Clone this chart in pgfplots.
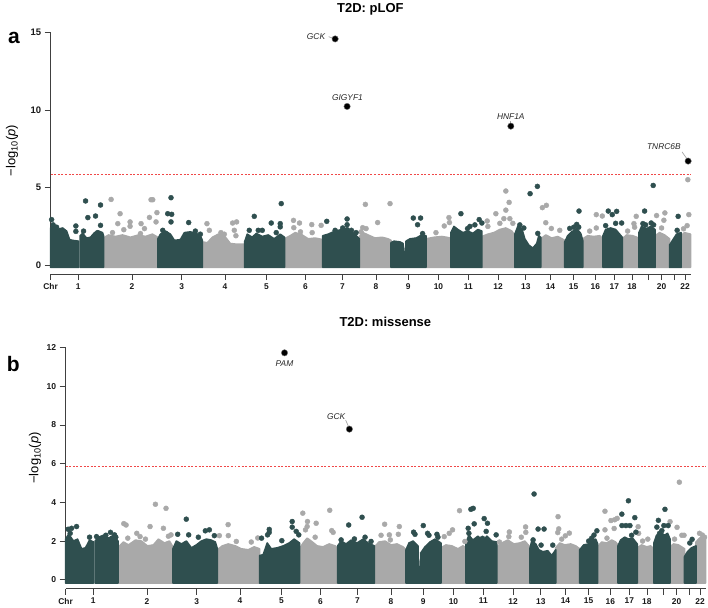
\documentclass[border=0pt]{standalone}
\usepackage{fontspec}
\setmainfont{Liberation Sans}
\usepackage{pgfplots}
\pgfplotsset{compat=1.18}

\definecolor{dk}{HTML}{2F4F4F}
\definecolor{gr}{HTML}{A9A9A9}
\definecolor{sig}{HTML}{F04848}

\pgfplotsset{
  manh/.style={
    x=1pt, xmin=0, xmax=641, clip=false,
    separate axis lines, axis x line*=bottom, axis y line*=left,
    axis line style={draw=none},
    tick align=outside, major tick length=6pt,
    tick style={draw=black!75, line width=0.7pt},
    xtick={0,27.6,81.5,131.3,174.7,216.3,255.3,292.3,326,358.3,388.5,418.5,448.3,476,500.7,523.8,545.7,564.7,582.3,598.8,612,625,635.5},
    xticklabels={Chr,1,2,3,4,5,6,7,8,9,10,11,12,13,14,15,16,17,18,{},20,{},22},
    xticklabel style={font=\bfseries\fontsize{8.4}{9}\selectfont, text=black!90},
  },
  envd/.style={fill=dk, draw=dk, line width=1.6pt, line join=round},
  envg/.style={fill=gr, draw=gr, line width=1.6pt, line join=round},
  ptd/.style={only marks, mark=*, mark size=2.5pt, mark options={draw=dk, fill=dk}},
  ptg/.style={only marks, mark=*, mark size=2.5pt, mark options={draw=gr, fill=gr}},
  hit/.style={only marks, mark=*, mark size=3.2pt, mark options={draw=black!55, fill=black}},
}
\tikzset{
  glab/.style={font=\itshape\fontsize{8.4}{9}\selectfont, text=black!85},
  conn/.style={draw=black!35, line width=0.7pt},
}

\begin{document}
\begin{tikzpicture}
\path (0,0) rectangle (708pt,-608pt);

% ---------------- panel a: pLOF ----------------
\begin{axis}[manh, y=15.55pt, ymin=-0.58, ymax=15,
  anchor=south west, at={(50.7pt,-274pt)},
  ytick={0,5,10,15}, yticklabels={0,5,10,15},
  yticklabel style={font=\bfseries\fontsize{9.5}{10}\selectfont, text=black!90}]
\draw[black!75, line width=0.7pt] (axis cs:0,0) -- (axis cs:0,15);
\draw[black!75, line width=0.7pt] (axis cs:0,-0.58) -- (axis cs:641,-0.58);

% gray chromosomes
\addplot[envg] coordinates {(53,-0.14)(53,1.75)(58,1.95)(65,1.85)(72,1.95)(80,1.8)(88,1.95)(95,1.85)(102,2.0)(107.5,1.8)(107.5,-0.14)} -- cycle;
\addplot[envg] coordinates {(152,-0.14)(152,1.5)(157,1.45)(162,1.8)(168,2.0)(174,1.9)(180,1.4)(187,1.35)(194.3,1.35)(194.3,-0.14)} -- cycle;
\addplot[envg] coordinates {(234.3,-0.14)(234.3,1.7)(240,1.9)(245,2.1)(252,1.95)(258,1.7)(265,1.75)(272.6,1.65)(272.6,-0.14)} -- cycle;
\addplot[envg] coordinates {(309.3,-0.14)(309.3,1.85)(313,2.1)(318,1.95)(325,1.75)(332,1.8)(338,1.7)(341,1.6)(341,-0.14)} -- cycle;
\addplot[envg] coordinates {(376,-0.14)(376,1.7)(384,1.8)(392,1.85)(401,1.75)(401,-0.14)} -- cycle;
\addplot[envg] coordinates {(432,-0.14)(432,1.85)(438,2.0)(444,2.1)(450,2.3)(456,2.4)(462,2.2)(465,1.9)(465,-0.14)} -- cycle;
\addplot[envg] coordinates {(491,-0.14)(491,1.7)(496,1.95)(502,1.75)(508,1.85)(515,1.6)(515,-0.14)} -- cycle;
\addplot[envg] coordinates {(533,-0.14)(533,1.7)(538,1.9)(544,1.85)(550,1.9)(553.3,1.7)(553.3,-0.14)} -- cycle;
\addplot[envg] coordinates {(572.6,-0.14)(572.6,1.7)(577,1.95)(583,1.9)(589.3,1.75)(589.3,-0.14)} -- cycle;
\addplot[envg] coordinates {(605.5,-0.14)(605.5,1.9)(610,2.1)(615,1.95)(620,1.7)(620,-0.14)} -- cycle;
\addplot[envg] coordinates {(631.5,-0.14)(631.5,1.9)(635,2.1)(641,2.0)(641,-0.14)} -- cycle;
% dark chromosomes
\addplot[envd] coordinates {(0,-0.14)(0,2.4)(3,2.55)(7,2.3)(12,2.4)(16,2.2)(19,1.65)(22,1.6)(28,1.55)(28,-0.14)} -- cycle;
\addplot[envd] coordinates {(29.6,-0.14)(29.6,1.9)(32,2.05)(36,1.75)(40,1.8)(44,2.1)(48,2.2)(52,2.1)(53,1.9)(53,-0.14)} -- cycle;
\addplot[envd] coordinates {(107.5,-0.14)(107.5,1.7)(110,2.0)(115,2.2)(120,2.0)(124,1.6)(130,1.65)(134,2.1)(140,2.15)(146,2.05)(150,1.9)(152,1.6)(152,-0.14)} -- cycle;
\addplot[envd] coordinates {(194.3,-0.14)(194.3,1.5)(197,2.0)(202,1.8)(206,2.05)(212,1.85)(218,1.95)(224,1.7)(230,2.0)(234.3,1.8)(234.3,-0.14)} -- cycle;
\addplot[envd] coordinates {(272.6,-0.14)(272.6,1.9)(278,2.0)(285,2.2)(292,2.3)(298,2.25)(304,2.05)(309.3,1.7)(309.3,-0.14)} -- cycle;
\addplot[envd] coordinates {(341,-0.14)(341,1.45)(344,1.55)(350,1.5)(353,1.4)(354,0.7)(355.5,0.7)(356,1.55)(360,1.7)(366,1.75)(372,1.95)(376,1.9)(376,-0.14)} -- cycle;
\addplot[envd] coordinates {(401,-0.14)(401,2.1)(404,2.5)(408,2.3)(413,2.1)(418,2.2)(423,2.05)(428,2.3)(432,2.2)(432,-0.14)} -- cycle;
\addplot[envd] coordinates {(465,-0.14)(465,2.0)(468,2.5)(472,2.35)(475,1.7)(479,1.3)(483,1.1)(487,1.4)(489,1.9)(491,1.8)(491,-0.14)} -- cycle;
\addplot[envd] coordinates {(515,-0.14)(515,1.5)(518,1.9)(522,2.15)(527,2.35)(531,2.05)(533,1.6)(533,-0.14)} -- cycle;
\addplot[envd] coordinates {(553.3,-0.14)(553.3,1.9)(556,2.3)(561,2.4)(566,2.3)(570,2.0)(572.6,1.8)(572.6,-0.14)} -- cycle;
\addplot[envd] coordinates {(589.3,-0.14)(589.3,2.1)(592,2.5)(597,2.35)(601,2.5)(605.5,2.3)(605.5,-0.14)} -- cycle;
\addplot[envd] coordinates {(620,-0.14)(620,1.3)(623,1.6)(627,2.0)(631.5,2.1)(631.5,-0.14)} -- cycle;

% scattered genes above the bulk
\addplot[ptg] coordinates {
(60.6,4.24)(69.6,3.32)(67.3,2.68)(73.3,2.29)(79.6,2.79)(79.6,2.51)(90.6,2.68)(94,2.36)(100.6,4.22)(102.3,4.22)(99,3.08)(105.6,2.79)(106.5,3.39)(90,2.04)(62,2.1)
(156.6,2.68)(159,2.25)(182.3,2.72)(186.3,2.79)(184,2.25)(185.6,1.9)(170.6,2.1)(174,2.0)
(243.3,2.89)(249.3,2.72)(243.6,2.42)(250.3,2.15)(261.6,2.62)(271,2.57)(262,2.1)
(315.3,3.92)(312.6,2.42)(316,2.36)(327.6,2.75)(311,2.15)(340,3.97)
(394.3,2.53)(399,3.07)(399.5,2.75)(386,2.1)
(446,3.32)(456,4.78)(459.3,4.05)(456,3.55)(454,3.0)(460,3.0)(463,2.7)(438,2.5)(450,2.7)(437.3,2.85)
(492.6,3.71)(496.6,3.86)(496,2.74)(501.6,2.37)(510,2.25)
(546.6,3.26)(552.6,3.17)(546.6,2.4)(540,2.2)
(586.6,3.15)(584.3,2.68)(585,2.45)(578,2.2)
(607,3.2)(615.3,3.37)(614.3,2.9)(612,2.4)
(638.3,5.51)(639.3,3.26)(637.6,2.55)(634,2.35)
};
\addplot[ptd] coordinates {
(1,2.94)(2.5,2.6)(6,2.45)(25.3,2.53)(25.3,2.18)(35,4.14)(37.3,3.07)(45,3.17)(50,3.88)(50,2.57)(47,2.1)(33,2.2)
(120.6,4.35)(117.3,3.32)(121.3,3.28)(120.6,2.79)(112.3,2.25)(115.6,2.04)(138.3,2.75)(145,2.2)(150,2.0)
(199,2.25)(204,3.15)(208,2.25)(212,2.25)(221,2.72)(230,2.68)(230,2.47)(231,3.97)(226,2.1)
(276.6,2.83)(297,2.98)(297,2.61)(297,2.29)(285,2.25)(292.6,2.4)(301.3,2.25)(306,2.1)
(363.3,3.04)(370.6,3.04)(367.6,2.61)(372.6,2.04)
(411,3.32)(417.6,2.36)(429.3,2.94)(432,2.72)(420,2.5)(425,2.6)
(480.3,4.61)(487.6,5.08)(470,2.6)(474,2.4)(488,2.05)
(529.3,3.49)(527,2.63)(529,2.45)(520,2.37)(524,2.45)
(558.6,3.49)(567,3.47)(562.6,3.26)(556,2.55)(566,2.7)(572,2.72)
(595,3.49)(593.3,2.68)(596,2.6)(603.6,5.14)(601.6,2.72)(604,2.6)
(628.6,3.15)(627.6,2.25)
};

\addplot[sig, line width=0.9pt, dash pattern=on 2pt off 1.6pt] coordinates {(0,5.87)(641,5.87)};

\draw[conn] (axis cs:278.5,14.72) -- (axis cs:284,14.6);
\draw[conn] (axis cs:461,9.3) -- (axis cs:461,9.0);
\draw[conn] (axis cs:632.5,7.3) -- (axis cs:638.6,6.75);
\addplot[hit] coordinates {(285,14.58)(297,10.23)(461,8.96)(638.6,6.71)};
\node[glab, anchor=east] at (axis cs:278.5,14.75) {GCK};
\node[glab] at (axis cs:297.3,10.8) {GIGYF1};
\node[glab] at (axis cs:461,9.55) {HNF1A};
\node[glab] at (axis cs:614.3,7.61) {TNRC6B};
\end{axis}

% ---------------- panel b: missense ----------------
\begin{axis}[manh, y=19.4pt, ymin=-0.46, ymax=12,
  anchor=south west, at={(65.7pt,-589pt)},
  ytick={0,2,4,6,8,10,12}, yticklabels={0,2,4,6,8,10,12},
  yticklabel style={font=\bfseries\fontsize{8.6}{9}\selectfont, text=black!90}]
\draw[black!75, line width=0.7pt] (axis cs:0,0) -- (axis cs:0,12);
\draw[black!75, line width=0.7pt] (axis cs:0,-0.46) -- (axis cs:641,-0.46);

\addplot[envg] coordinates {(53,-0.17)(53,1.7)(58,1.95)(63,1.8)(70,2.05)(76,2.0)(82,1.75)(88,1.8)(93,2.1)(99,1.9)(104,2.0)(107.5,1.7)(107.5,-0.17)} -- cycle;
\addplot[envg] coordinates {(152,-0.17)(152,1.55)(157,1.75)(163,1.85)(170,1.75)(176,1.6)(183,1.55)(189,1.7)(194.3,1.6)(194.3,-0.17)} -- cycle;
\addplot[envg] coordinates {(234.3,-0.17)(234.3,1.6)(238,1.9)(242,2.15)(246,2.0)(252,1.75)(258,1.7)(264,1.85)(270,1.75)(272.6,1.6)(272.6,-0.17)} -- cycle;
\addplot[envg] coordinates {(309.3,-0.17)(309.3,1.7)(314,1.95)(320,2.0)(326,1.8)(332,1.85)(338,1.7)(341,1.55)(341,-0.17)} -- cycle;
\addplot[envg] coordinates {(376,-0.17)(376,1.65)(381,1.8)(387,1.75)(393,1.6)(398,1.75)(401,1.65)(401,-0.17)} -- cycle;
\addplot[envg] coordinates {(432,-0.17)(432,1.7)(437,1.9)(443,2.05)(449,1.85)(455,1.9)(460,2.0)(465,1.7)(465,-0.17)} -- cycle;
\addplot[envg] coordinates {(491,-0.17)(491,1.65)(495,1.9)(500,1.8)(506,1.85)(511,1.75)(515,1.6)(515,-0.17)} -- cycle;
\addplot[envg] coordinates {(533,-0.17)(533,1.7)(537,1.95)(542,1.9)(547,2.05)(551,1.95)(553.3,1.8)(553.3,-0.17)} -- cycle;
\addplot[envg] coordinates {(572.6,-0.17)(572.6,1.65)(577,1.8)(582,1.7)(586,1.75)(589.3,1.6)(589.3,-0.17)} -- cycle;
\addplot[envg] coordinates {(605.5,-0.17)(605.5,1.7)(609,1.85)(614,1.8)(620,1.6)(620,-0.17)} -- cycle;
\addplot[envg] coordinates {(631.5,-0.17)(631.5,1.95)(635,2.15)(639,2.25)(641,2.1)(641,-0.17)} -- cycle;

\addplot[envd] coordinates {(0,-0.17)(0,2.1)(3,2.35)(8,2.0)(12,2.1)(16,1.6)(20,1.65)(24,2.05)(28,1.95)(28,-0.17)} -- cycle;
\addplot[envd] coordinates {(29.6,-0.17)(29.6,2.0)(33,2.2)(38,2.3)(43,2.15)(48,2.3)(52.5,2.0)(52.5,-0.17)} -- cycle;
\addplot[envd] coordinates {(107.5,-0.17)(107.5,1.6)(111,2.0)(116,1.85)(121,2.0)(126,1.65)(131,1.8)(136,2.0)(141,2.1)(146,2.05)(150,1.95)(152,1.6)(152,-0.17)} -- cycle;
\addplot[envd] coordinates {(194.3,-0.17)(194.3,1.25)(198,1.3)(202,1.9)(206,1.6)(212,1.65)(218,1.75)(224,1.9)(229,2.1)(234.3,1.9)(234.3,-0.17)} -- cycle;
\addplot[envd] coordinates {(272.6,-0.17)(272.6,1.75)(276,2.0)(281,1.85)(286,2.05)(292,1.9)(298,2.1)(303,1.9)(309.3,1.75)(309.3,-0.17)} -- cycle;
\addplot[envd] coordinates {(341,-0.17)(341,1.55)(344,1.9)(348,2.0)(353,1.75)(354,0.3)(355.5,0.3)(356,1.4)(360,1.7)(365,1.95)(370,2.1)(376,1.9)(376,-0.17)} -- cycle;
\addplot[envd] coordinates {(401,-0.17)(401,1.9)(404,2.3)(408,2.05)(413,2.25)(418,2.0)(422,2.25)(427,2.0)(432,1.95)(432,-0.17)} -- cycle;
\addplot[envd] coordinates {(465,-0.17)(465,1.6)(467,2.0)(471,1.85)(474,1.55)(478,1.45)(483,1.5)(487,1.25)(491,1.55)(491,-0.17)} -- cycle;
\addplot[envd] coordinates {(515,-0.17)(515,1.55)(519,1.8)(524,1.85)(528,2.05)(531,2.1)(533,1.85)(533,-0.17)} -- cycle;
\addplot[envd] coordinates {(553.3,-0.17)(553.3,1.75)(556,2.05)(560,2.2)(564,2.1)(568,2.15)(572.6,1.85)(572.6,-0.17)} -- cycle;
\addplot[envd] coordinates {(589.3,-0.17)(589.3,1.9)(592,2.3)(596,2.45)(600,2.3)(603,2.4)(605.5,2.1)(605.5,-0.17)} -- cycle;
\addplot[envd] coordinates {(620,-0.17)(620,1.2)(623,1.45)(627,1.65)(631.5,1.75)(631.5,-0.17)} -- cycle;

\addplot[ptg] coordinates {
(58.3,2.9)(60.6,2.83)(84.6,2.75)(90,3.9)(100.6,3.69)(98,2.66)(71.3,2.4)(74.6,2.23)(62.3,2.15)(105.6,2.32)(103,2.25)(80,2.1)
(162.8,2.85)(163,2.28)(154,2.28)(171,1.98)(192.5,2.16)(186,1.95)
(237.6,3.44)(242.3,3.01)(242,2.75)(240.3,2.58)(251,2.92)(264.6,3.59)(266.6,2.54)(268,2.45)(250,2.2)
(316,2.3)(319.6,2.87)(324.3,2.32)(334.3,2.75)(333.3,2.35)(325.3,2.06)
(394.6,3.57)(387.6,2.58)(384.3,2.4)(379.3,2.23)(400,1.98)
(434.6,1.95)(444.5,2.47)(444,2.23)(456.5,2.2)(460.8,2.73)(461,2.45)
(493.3,3.26)(494,2.63)(493,2.44)(500.6,2.27)(504.6,2.41)(497,2.1)
(540.3,3.54)(546.3,3.06)(550,3.1)(552.5,3.17)(540.3,2.58)(542.3,2.15)(549.5,2.65)
(573.5,2.74)(583.2,2.1)(578,2.0)(574,2.4)
(614.8,5.04)(605.5,3.0)(612.5,2.71)(617.3,2.3)(619.5,2.3)(610,2.1)
(637.8,2.31)(635,2.4)(640,2.2)
};
\addplot[ptd] coordinates {
(2.6,2.61)(6,2.66)(11,2.75)(4.6,2.4)(24,2.2)(31,2.23)(40.3,2.3)(49,2.32)(50.3,2.2)(45,2.45)
(120.9,3.13)(112.3,2.35)(123.3,2.32)(140,2.53)(144,2.58)(149,2.28)(133,2.2)
(196.3,2.15)(204,2.6)(204,2.45)(202.3,2.32)(227,3.01)(227,2.72)(216.6,2.02)(233.6,2.32)(231,2.5)
(283.6,2.83)(297,3.23)(276,2.06)(289.3,2.11)(306,1.98)(300,2.2)
(348.6,2.46)(350,2.35)(358.3,2.8)(362.6,2.4)(364,2.3)(372,2.35)(373,2.2)
(403.3,2.66)(406,3.64)(408.3,3.69)(409.3,2.89)(419.3,3.16)(422.6,2.92)(417.6,2.14)(421.3,2.5)(404,2.4)(431.3,2.32)
(469.3,4.43)(473.3,2.62)(479.3,2.62)(468.3,2.06)(476.3,1.79)(488,1.79)
(532.2,2.53)(529.3,2.31)(527,2.15)(524,2.0)
(563.8,4.08)(557.2,3.39)(570.2,3.21)(557.3,2.8)(561.3,2.8)(565.3,2.8)(571.3,2.46)(567,2.3)
(600.4,3.64)(593.8,3.07)(599.3,2.8)(603.6,2.8)(592.3,2.72)(597.3,2.54)(595,2.4)
(627.6,2.09)(625.3,1.9)
};

\addplot[sig, line width=0.9pt, dash pattern=on 2pt off 1.6pt] coordinates {(0,5.87)(641,5.87)};

\draw[conn] (axis cs:280.5,8.25) -- (axis cs:284,7.85);
\addplot[hit] coordinates {(219.3,11.72)(284.3,7.78)};
\node[glab] at (axis cs:219.3,11.17) {PAM};
\node[glab] at (axis cs:271,8.42) {GCK};
\end{axis}

% titles, axis titles and panel letters
\node[font=\bfseries\fontsize{13}{13}\selectfont, anchor=base] at (371pt,-11.7pt) {T2D: pLOF};
\node[font=\bfseries\fontsize{13}{13}\selectfont, anchor=base] at (386pt,-326pt) {T2D: missense};
\node[font=\fontsize{13}{13}\selectfont, rotate=90] at (12pt,-150pt) {−log\textsubscript{10}(\textit{p})};
\node[font=\fontsize{13}{13}\selectfont, rotate=90] at (35pt,-458pt) {−log\textsubscript{10}(\textit{p})};
\node[font=\bfseries\fontsize{21}{21}\selectfont, anchor=base] at (14pt,-42.7pt) {a};
\node[font=\bfseries\fontsize{21}{21}\selectfont, anchor=base] at (13.3pt,-371.7pt) {b};
\end{tikzpicture}
\end{document}
